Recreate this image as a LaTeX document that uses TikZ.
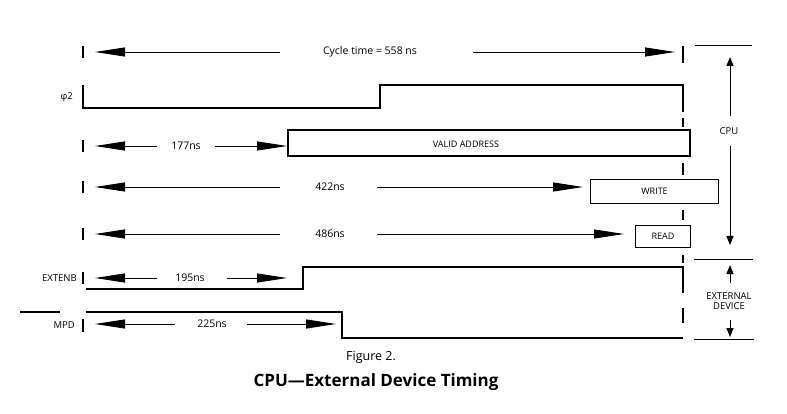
\documentclass[tikz,border=0pt]{standalone}
\usepackage{fontspec}
\setmainfont{Open Sans}
\usetikzlibrary{arrows.meta}
\begin{document}
\begin{tikzpicture}[x=1pt,y=-1pt,
  sig/.style={line width=1.5pt, line join=miter},
  dim/.style={line width=0.9pt},
  lhead/.style={dim,-{Triangle[length=30pt,width=9pt]}},
  shead/.style={line width=0.9pt,-{Triangle[length=9pt,width=7pt]}},
  tickline/.style={line width=1.6pt},
  lab/.style={font=\fontsize{10.5}{12}\selectfont, inner sep=0pt},
  caps/.style={font=\fontsize{9}{10}\selectfont, inner sep=0pt},
  sidelab/.style={font=\fontsize{9.5}{11}\selectfont, inner sep=0pt},
  boxshape/.style={draw, line width=1.1pt, inner sep=0pt, minimum height=24pt}
]
\useasboundingbox (0,0) rectangle (787,414);

% ---------- Cycle time row ----------
\draw[tickline] (83,46) -- (83,58);
\node[lab] (cyc) at (370,52) {Cycle time = 558 ns};
\coordinate (cycLs) at (280,52); \coordinate (cycLt) at (95,52);
\coordinate (cycRs) at (473,52); \coordinate (cycRt) at (675,52);
\draw[lhead] (cycLs) -- (cycLt);
\draw[lhead] (cycRs) -- (cycRt);

% ---------- phi2 row ----------
\node[sidelab, anchor=east] (phi) at (73,97) {φ2};
\draw[sig] (83,85) -- (83,108) -- (380,108) -- (380,85) -- (683,85) -- (683,112);

% ---------- dashed end-of-cycle line ----------
\foreach \a/\b in {46/63, 118/127, 163/175, 210/220, 255/263, 308/323}
  \draw[tickline] (683,\a) -- (683,\b);

% ---------- VALID ADDRESS row ----------
\draw[tickline] (83,140) -- (83,152);
\node[lab] (t177) at (186,146) {177ns};
\coordinate (vaLs) at (157,146); \coordinate (vaLt) at (95,146);
\coordinate (vaRs) at (215,146); \coordinate (vaRt) at (287,146);
\draw[lhead] (vaLs) -- (vaLt);
\draw[lhead] (vaRs) -- (vaRt);
\draw[line width=1.1pt] (288,130) rectangle (690,156);
\node[caps] (va) at (466,144) {VALID ADDRESS};

% ---------- WRITE row ----------
\draw[tickline] (83,181) -- (83,193);
\node[lab] (t422) at (330,187) {422ns};
\coordinate (wrLs) at (280,187); \coordinate (wrLt) at (95,187);
\coordinate (wrRs) at (377,187); \coordinate (wrRt) at (583,187);
\draw[lhead] (wrLs) -- (wrLt);
\draw[lhead] (wrRs) -- (wrRt);
\node[boxshape, caps, minimum width=128pt, anchor=north west] (wr) at (590,179) {WRITE};

% ---------- READ row ----------
\draw[tickline] (83,228) -- (83,240);
\node[lab] (t486) at (330,234) {486ns};
\coordinate (rdLs) at (280,234); \coordinate (rdLt) at (95,234);
\coordinate (rdRs) at (377,234); \coordinate (rdRt) at (624,234);
\draw[lhead] (rdLs) -- (rdLt);
\draw[lhead] (rdRs) -- (rdRt);
\node[boxshape, caps, minimum width=55pt, minimum height=22pt, anchor=north west] (rd) at (635,225) {READ};

% ---------- EXTENB row ----------
\node[sidelab, anchor=east] (ext) at (77,278) {EXTENB};
\draw[tickline] (83,272) -- (83,284);
\node[lab] (t195) at (190,278) {195ns};
\coordinate (exLs) at (157,278); \coordinate (exLt) at (95,278);
\coordinate (exRs) at (227,278); \coordinate (exRt) at (287,278);
\draw[lhead] (exLs) -- (exLt);
\draw[lhead] (exRs) -- (exRt);
\draw[sig] (86,289) -- (303,289) -- (303,267) -- (683,267) -- (683,293);

% ---------- MPD row ----------
\draw[sig] (20,312) -- (60,312);
\node[sidelab, anchor=east] (mpd) at (75,325) {MPD};
\draw[tickline] (83,319) -- (83,332);
\node[lab] (t225) at (212,324) {225ns};
\coordinate (mpLs) at (175,324); \coordinate (mpLt) at (95,324);
\coordinate (mpRs) at (247,324); \coordinate (mpRt) at (336,324);
\draw[lhead] (mpLs) -- (mpLt);
\draw[lhead] (mpRs) -- (mpRt);
\draw[sig] (86,312) -- (342,312) -- (342,338) -- (683,338);

% ---------- side brackets ----------
\draw[dim] (695,45) -- (752,45);
\node[sidelab] (cpu) at (729,131) {CPU};
\coordinate (cpuUs) at (730,116); \coordinate (cpuUt) at (730,57);
\coordinate (cpuDs) at (730,146); \coordinate (cpuDt) at (730,245);
\draw[shead] (cpuUs) -- (cpuUt);
\draw[shead] (cpuDs) -- (cpuDt);
\draw[dim] (694,259) -- (753,259);
\node[sidelab, align=center] (exd) at (729,301) {EXTERNAL\\[-1pt]DEVICE};
\coordinate (edUs) at (730,283); \coordinate (edUt) at (730,265);
\coordinate (edDs) at (730,320); \coordinate (edDt) at (730,337);
\draw[shead] (edUs) -- (edUt);
\draw[shead] (edDs) -- (edDt);
\draw[dim] (694,339) -- (754,339);

% ---------- caption ----------
\node[font=\fontsize{12.5}{14}\selectfont, inner sep=0pt] (fig) at (371,357) {Figure 2.};
\node[font=\fontsize{17}{19}\bfseries\selectfont, inner sep=0pt] (title) at (376,382) {CPU—External Device Timing};
\end{tikzpicture}
\end{document}
